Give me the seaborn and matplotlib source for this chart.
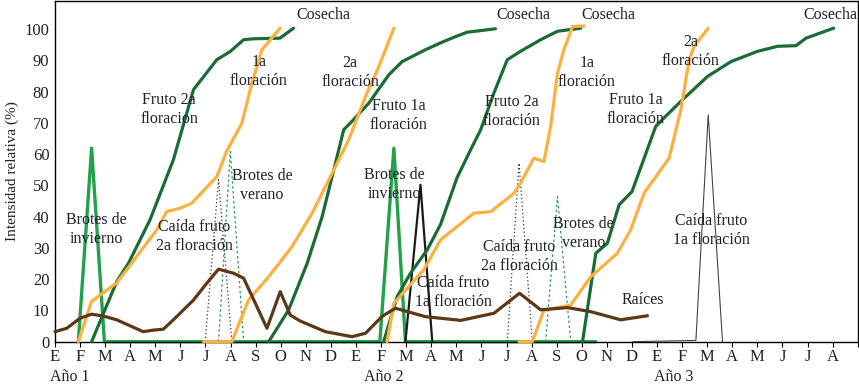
import matplotlib
matplotlib.use("Agg")
import matplotlib.pyplot as plt
import seaborn as sns
import pandas as pd
import numpy as np

sns.set_style("white")
plt.rcParams['font.family'] = ['Liberation Serif', 'DejaVu Serif']

# ---------------- data (x in months from Jan of year 1, y = intensity %) ----------------
month_labels = ['E', 'F', 'M', 'A', 'M', 'J', 'J', 'A', 'S', 'O', 'N', 'D'] * 2 + \
               ['E', 'F', 'M', 'A', 'M', 'J', 'J', 'A']
year_labels = ['Año 1', 'Año 2', 'Año 3']
year_pos = [0.6, 13.1, 24.65]

# Fruto (dark green)
fruto_y1_x = [1.46, 2.46, 2.93, 3.79, 4.72, 5.52, 6.45, 6.98, 7.52, 7.9, 8.97, 9.51]
fruto_y1_v = [0, 19.2, 25.1, 39.0, 58.2, 80.6, 90.2, 92.8, 96.6, 96.9, 97.1, 100.3]
fruto_y2a_x = [8.52, 9.31, 10.05, 10.65, 11.18, 11.51, 11.84, 12.51, 13.31, 13.84, 14.77, 15.37, 15.97, 16.43, 17.56]
fruto_y2a_v = [0, 10.1, 25.0, 40.0, 57.1, 67.8, 70.5, 76.3, 85.4, 89.6, 93.4, 95.6, 97.6, 99.0, 100.1]
fruto_y2b_x = [13.1, 13.64, 14.17, 14.84, 15.37, 16.03, 16.57, 16.97, 17.5, 18.03, 18.56, 19.36, 20.03, 20.96]
fruto_y2b_v = [0, 14.4, 21.9, 29.4, 37.5, 52.5, 61.4, 67.8, 79.6, 90.2, 92.9, 96.6, 99.3, 100.3]
fruto_y3_x = [21.03, 21.56, 22.02, 22.49, 23.0, 23.95, 24.28, 24.95, 26.02, 26.95, 28.01, 28.81, 29.54, 29.94, 31.04]
fruto_y3_v = [0, 28.3, 31.5, 43.8, 48.0, 68.9, 71.6, 76.9, 84.9, 89.6, 92.9, 94.5, 94.7, 97.1, 100.3]

# Floración (orange)
flor_y1a_x = [0.93, 1.46, 2.46, 4.06, 4.45, 4.99, 5.45, 6.45, 6.85, 7.45, 7.85, 8.25, 8.98]
flor_y1a_v = [0, 12.9, 18.8, 35.8, 41.6, 42.7, 44.3, 52.8, 61.0, 69.9, 82.7, 93.4, 100.3]
flor_y1b_x = [5.92, 7.05, 7.72, 8.52, 9.45, 10.25, 11.05, 11.71, 12.38, 12.91, 13.51]
flor_y1b_v = [0, 0, 13.4, 20.8, 30.4, 41.1, 53.9, 64.6, 78.5, 88.0, 100.3]
flor_y2a_x = [13.24, 13.51, 14.7, 15.37, 16.04, 16.7, 17.37, 18.3, 18.56, 19.09, 19.49, 19.76, 20.03, 20.29, 20.63, 21.09]
flor_y2a_v = [0, 12.3, 23.0, 32.6, 36.9, 41.1, 41.6, 47.5, 50.7, 58.7, 57.6, 68.9, 85.9, 93.4, 100.8, 101.0]
flor_y2b_x = [18.5, 19.03, 19.49, 20.56, 21.36, 22.42, 22.95, 23.49, 24.48, 24.95, 25.28, 25.48, 26.04]
flor_y2b_v = [0, 0, 10.1, 11.7, 20.8, 28.3, 35.8, 47.6, 58.7, 74.2, 90.2, 94.5, 100.3]

# Raíces (brown)
raices_x = [0, 0.47, 1.0, 1.46, 1.93, 2.46, 3.52, 3.92, 4.32, 4.72, 5.52, 6.05, 6.52, 7.12, 7.52,
            8.05, 8.45, 8.98, 9.38, 9.78, 10.78, 11.84, 12.38, 13.04, 13.57, 14.77, 15.97, 16.17,
            17.5, 18.52, 19.36, 20.43, 21.36, 22.55, 23.62]
raices_v = [3.2, 4.3, 7.5, 8.8, 8.2, 7.0, 3.2, 3.7, 4.0, 7.0, 13.3, 18.7, 23.2, 21.9, 20.3,
            11.2, 4.3, 16.0, 8.5, 6.6, 3.2, 1.6, 2.7, 8.1, 10.7, 8.0, 7.0, 6.8,
            9.1, 15.5, 10.2, 10.9, 9.6, 7.0, 8.3]

# Brotes de invierno (bright green)
invierno_x = [1.97, 12.95, 13.51, 13.97, 21.56]
invierno_v = [0, 0, 61.9, 0, 0]
invierno1_x = [0.93, 1.46, 1.97]
invierno1_v = [0, 61.9, 0]
invierno_dot_x = [0, 0.93]
invierno_dot_v = [0, 0]

# Brotes de verano (dotted green)
verano_y1_x = [6.52, 6.99, 7.52]
verano_y1_v = [0, 60.8, 0]
verano_y2_x = [19.56, 20.03, 20.56]
verano_y2_v = [0, 46.4, 0]

# Caída fruto 2a floración (dotted black)
caida2_y1_x = [5.99, 6.52, 7.05]
caida2_y1_v = [0, 51.8, 0]
caida2_y2_x = [18.03, 18.5, 19.03]
caida2_y2_v = [0, 57.1, 0]

# Caída fruto 1a floración (solid black)
caida1_y2_x = [13.97, 14.57, 15.04]
caida1_y2_v = [0, 50.2, 0]
caida1_y3_x = [23.0, 25.55, 26.04, 26.61]
caida1_y3_v = [0, 0.4, 72.6, 0]

# annotation labels
labels = ['Cosecha', 'Cosecha', 'Cosecha', 'Cosecha',
          '1a\nfloración', '2a\nfloración', '1a\nfloración', '2a\nfloración',
          'Fruto 2a\nfloracion', 'Fruto 1a\nfloración', 'Fruto 2a\nfloración', 'Fruto 1a\nfloración',
          'Brotes de\ninvierno', 'Brotes de\ninvierno', 'Brotes de\nverano', 'Brotes de\nverano',
          'Caída fruto\n2a floración', 'Caída fruto\n1a floración', 'Caída fruto\n2a floración',
          'Caída fruto\n1a floración', 'Raíces']
label_x = [10.68, 18.66, 22.05, 30.92,
           8.12, 11.76, 21.2, 25.35,
           4.55, 13.69, 18.2, 23.15,
           1.64, 13.53, 8.26, 21.08,
           5.55, 15.87, 18.52,
           26.15, 23.43]
label_y = [104.6, 104.6, 104.6, 104.6,
           86.3, 86.0, 86.0, 92.8,
           74.3, 72.5, 73.6, 74.3,
           35.8, 50.2, 49.9, 34.6,
           33.6, 15.6, 27.1,
           35.5, 13.4]

# ---------------- drawing ----------------
fig = plt.figure(figsize=(8.59, 3.85), dpi=100)
ax = fig.add_axes([0.064, 0.1125, 0.9345, 0.885])

DARK = '#1b6b34'
BRIGHT = '#23a04a'
ORANGE = '#fbb040'
BROWN = '#5a3818'
TXT = '#20202e'


def line(xs, vs, color, lw, ls='-', z=2):
    sns.lineplot(x=xs, y=vs, sort=False, estimator=None, color=color, lw=lw,
                 linestyle=ls, ax=ax, zorder=z, clip_on=False)


line(invierno_dot_x, invierno_dot_v, '#6aa880', 0.9, ':', 2)
line(invierno_x, invierno_v, BRIGHT, 2.4, '-', 2)
line(invierno1_x, invierno1_v, BRIGHT, 2.4, '-', 2)
line(verano_y1_x, verano_y1_v, '#2e9a55', 0.9, (0, (2, 2)), 2)
line(verano_y2_x, verano_y2_v, '#2e9a55', 0.9, (0, (2, 2)), 2)
line(caida2_y1_x, caida2_y1_v, '#333333', 0.9, (0, (1, 2)), 2)
line(caida2_y2_x, caida2_y2_v, '#333333', 0.9, (0, (1, 2)), 2)
line(caida1_y2_x, caida1_y2_v, '#1a1a1a', 1.6, '-', 3)
line(caida1_y3_x, caida1_y3_v, '#444444', 0.8, '-', 3)
for xs, vs in [(fruto_y1_x, fruto_y1_v), (fruto_y2a_x, fruto_y2a_v),
               (fruto_y2b_x, fruto_y2b_v), (fruto_y3_x, fruto_y3_v)]:
    line(xs, vs, DARK, 2.3, '-', 3)
for xs, vs in [(flor_y1a_x, flor_y1a_v), (flor_y1b_x, flor_y1b_v),
               (flor_y2a_x, flor_y2a_v), (flor_y2b_x, flor_y2b_v)]:
    line(xs, vs, ORANGE, 2.3, '-', 4)
line(raices_x, raices_v, BROWN, 2.3, '-', 5)

for t, x, y in zip(labels, label_x, label_y):
    ax.text(x, y, t, ha='center', va='center', fontsize=11.5, color=TXT,
            linespacing=1.25, zorder=6)

ax.set_xlim(0, 32)
ax.set_ylim(0, 109)
ax.set_xticks(range(33))
ax.set_xticklabels(month_labels + [''])
ax.set_yticks(range(0, 101, 10))
ax.tick_params(axis='x', direction='out', length=3.5, width=0.8, pad=2,
               labelsize=12, colors='black', labelcolor=TXT, bottom=True)
ax.tick_params(axis='y', length=0, pad=4, labelsize=12, labelcolor=TXT)
ax.set_ylabel('Intensidad relativa (%)', fontsize=11, color=TXT, labelpad=4)
ax.set_xlabel('')
for s in ax.spines.values():
    s.set_visible(True)
    s.set_color('black')
    s.set_linewidth(1.0)

trans = matplotlib.transforms.blended_transform_factory(ax.transData, ax.transAxes)
for t, x in zip(year_labels, year_pos):
    ax.text(x, -0.104, t, transform=trans, ha='center', va='center', fontsize=11.5, color=TXT)

fig.savefig('out.png', dpi=100)
